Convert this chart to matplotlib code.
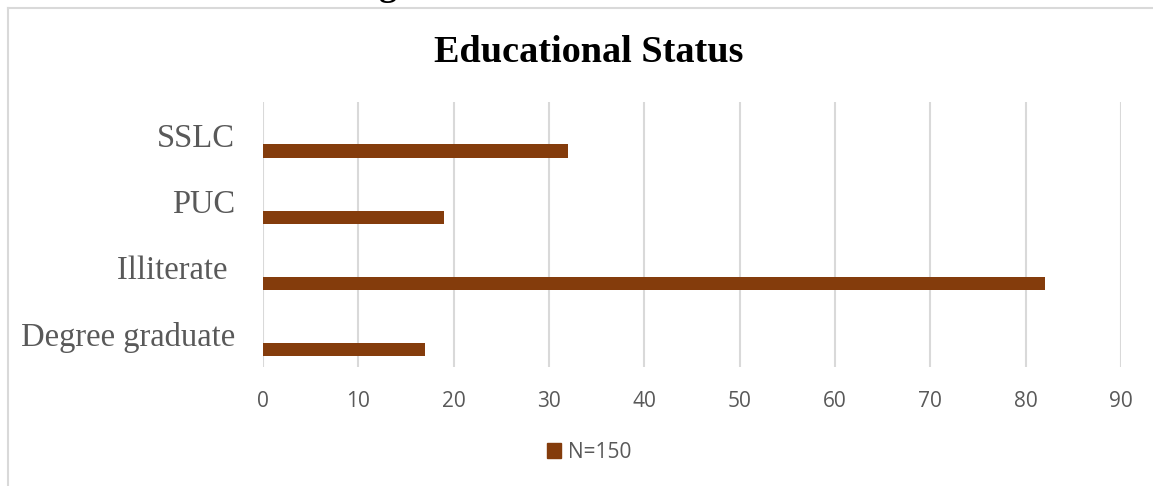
import numpy as np
import matplotlib
matplotlib.use('Agg')
import matplotlib.pyplot as plt
from matplotlib.patches import Rectangle

categories = ['Degree graduate', 'Illiterate ', 'PUC', 'SSLC']
counts = [17, 82, 19, 32]
series_name = 'N=150'
x_ticks = [0, 10, 20, 30, 40, 50, 60, 70, 80, 90]

bar_color = '#843C0C'
grid_color = '#D9D9D9'
text_gray = '#595959'

fig = plt.figure(figsize=(11.53, 4.86), dpi=100)

# outer chart frame (only top and left edges fall inside the image)
fig.add_artist(plt.Line2D([7.5/1153, 7.5/1153], [0, 1 - 8.5/486], transform=fig.transFigure,
                          color=grid_color, lw=1.5))
fig.add_artist(plt.Line2D([7.5/1153, 1], [1 - 8.5/486, 1 - 8.5/486], transform=fig.transFigure,
                          color=grid_color, lw=1.5))

# bit of caption text from above the chart
fig.text(388/1153, 1 + 5/486, 'g', ha='center', va='baseline', fontsize=26,
         family='Liberation Serif', fontweight='bold', color='black')

ax = fig.add_axes([263/1153, 1 - 367/486, (1121 - 263)/1153, (367 - 102)/486])

y = np.arange(len(categories))
# bars sit in the lower part of each category band
ax.barh(y - 0.24, counts, height=0.2, color=bar_color, label=series_name, zorder=3)

ax.set_xlim(0, 90)
ax.set_ylim(-0.5, 3.5)
ax.set_xticks(x_ticks)
ax.set_xticklabels([str(t) for t in x_ticks], family='Open Sans', fontsize=15, color=text_gray)
ax.set_yticks(y)
ax.set_yticklabels(categories, family='Liberation Serif', fontsize=23.5, color=text_gray)
ax.tick_params(axis='both', length=0)
ax.tick_params(axis='x', pad=17)
ax.tick_params(axis='y', pad=20)
ax.grid(axis='x', color=grid_color, lw=1.5, zorder=0)
for s in ax.spines.values():
    s.set_visible(False)

fig.text(589/1153, 1 - 53/486, 'Educational Status', ha='center', va='center',
         family='Liberation Serif', fontweight='bold', fontsize=27.5, color='black')

handle = Rectangle((0, 0), 1, 1, color=bar_color)
fig.legend([handle], [series_name], loc='center', bbox_to_anchor=(589/1153, 1 - 452/486),
           frameon=False, prop={'family': 'Open Sans', 'size': 15}, labelcolor=text_gray,
           handlelength=0.7, handleheight=0.7, handletextpad=0.3)

fig.savefig('out.png', dpi=100)
